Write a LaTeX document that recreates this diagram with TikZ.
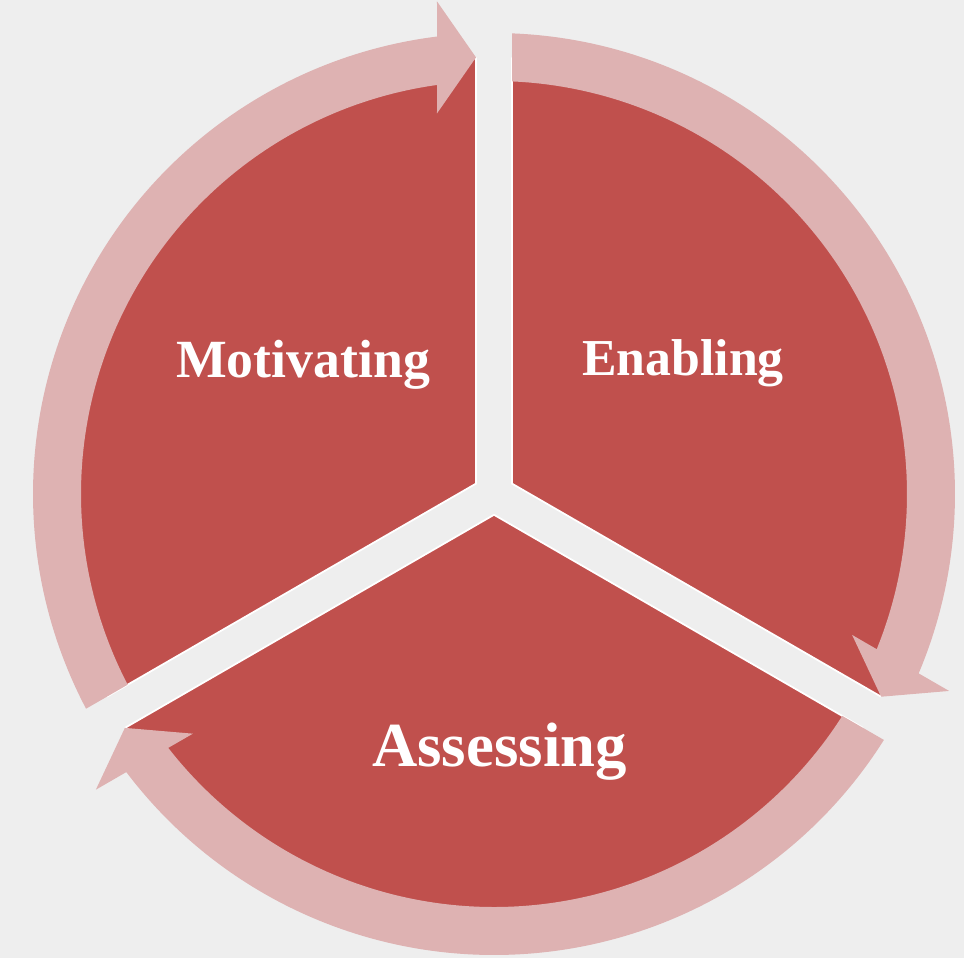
\documentclass[tikz,border=0pt]{standalone}
\usepackage{fontspec}
\setmainfont{Liberation Serif}
\definecolor{segred}{HTML}{C0504D}
\definecolor{segpink}{HTML}{DEB2B2}
\definecolor{backgray}{HTML}{EEEEEE}

\begin{document}
\begin{tikzpicture}[x=0.02cm, y=0.02cm,
        segment/.style={fill=segred, draw=white, line width=1pt},
        cyclearrow/.style={fill=segpink},
        seglabel/.style={text=white, anchor=base,
            font=\bfseries\fontsize{29.5}{32}\selectfont}]
        \fill[backgray] (-494,-464) rectangle (470,494);
        \useasboundingbox (-494,-464) rectangle (470,494);
        \begin{scope}[rotate=90]
        \filldraw[segment] (60:20.78) -- (2.37:436) 
            arc[start angle=2.37, end angle=117.63, radius=436] -- cycle;
        \fill[cyclearrow] (117.76:461) 
            arc[start angle=117.76, end angle=7.10, radius=461] 
            -- (492.6,57) -- (436.6,18) -- (380.6,57) -- (7.93:413) 
            arc[start angle=7.93, end angle=117.50, radius=413] -- cycle;
        \end{scope}
        \begin{scope}[rotate=-30]
        \filldraw[segment] (60:20.78) -- (2.37:436) 
            arc[start angle=2.37, end angle=117.63, radius=436] -- cycle;
        \fill[cyclearrow] (117.76:461) 
            arc[start angle=117.76, end angle=7.10, radius=461] 
            -- (492.6,57) -- (436.6,18) -- (380.6,57) -- (7.93:413) 
            arc[start angle=7.93, end angle=117.50, radius=413] -- cycle;
        \end{scope}
        \begin{scope}[rotate=210]
        \filldraw[segment] (60:20.78) -- (2.37:436) 
            arc[start angle=2.37, end angle=117.63, radius=436] -- cycle;
        \fill[cyclearrow] (117.76:461) 
            arc[start angle=117.76, end angle=7.10, radius=461] 
            -- (492.6,57) -- (436.6,18) -- (380.6,57) -- (7.93:413) 
            arc[start angle=7.93, end angle=117.50, radius=413] -- cycle;
        \end{scope}
        \node(M) [seglabel, font=\bfseries\fontsize{30.6}{32}\selectfont] 
            at (-191,117) {Motivating};
        \node(E) [seglabel] at (189,119) {Enabling};
        \node(A) [seglabel, font=\bfseries\fontsize{35.7}{38}\selectfont] 
            at (5.5,-272) {Assessing};
    \end{tikzpicture}
\end{document}
